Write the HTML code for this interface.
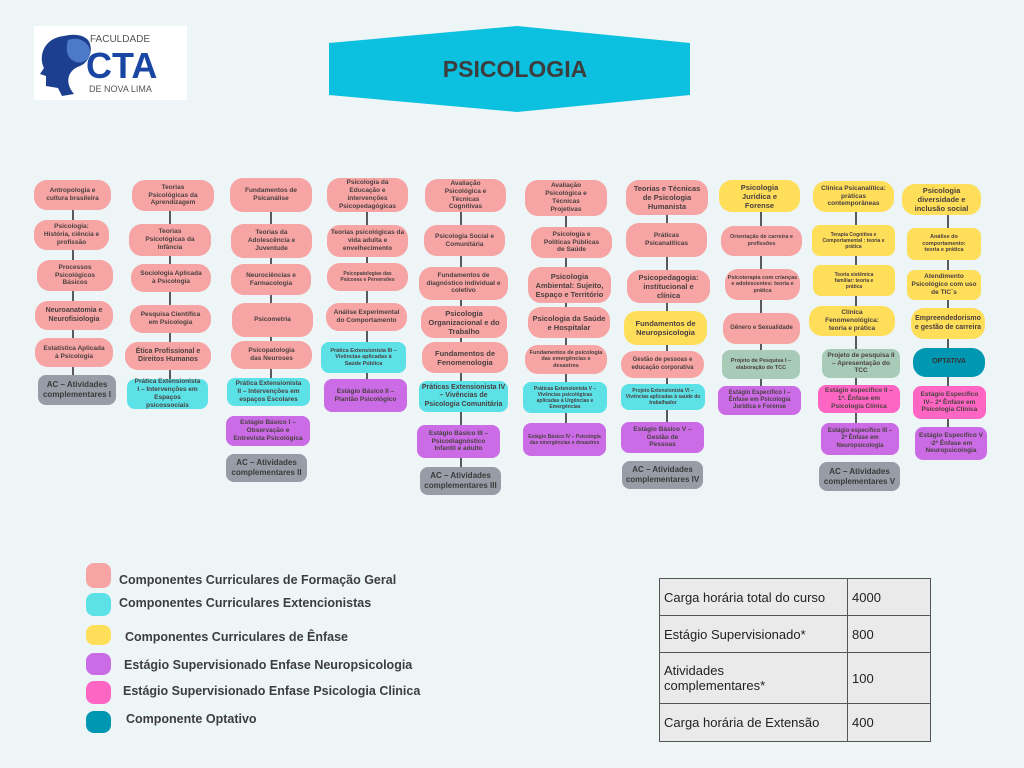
<!DOCTYPE html>
<html><head><meta charset="utf-8"><style>
*{margin:0;padding:0;box-sizing:border-box}
body{width:1024px;height:768px;background:#edf5f7;position:relative;overflow:hidden;font-family:"Liberation Sans",sans-serif;}
.b{position:absolute;display:flex;align-items:center;justify-content:center;text-align:center;font-weight:bold;color:#4a4040;border-radius:13px;font-size:6.5px;line-height:1.2;padding:0 7px;}
.p{background:#f7a4a4}.c{background:#5ce1e6}.y{background:#ffde59}.v{background:#cb6ce6}.h{background:#ff66c4}.t{background:#0097b2;color:#333}.g{background:#979ca6;color:#3a3a3a}.s{background:#a8cbb8}
.l{position:absolute;width:2px;background:#5a5a5a}
.lg{position:absolute;left:86px;width:25px;border-radius:8px}
.lt{position:absolute;left:119px;font-size:12.5px;font-weight:bold;color:#3d3d3d}
table{position:absolute;left:659px;top:578px;width:272px;border-collapse:collapse;font-size:13px;color:#222;table-layout:fixed}
td{border:1px solid #555;padding:0 4px;background:#eaeaea}
</style></head><body>
<div style="position:absolute;left:34px;top:26px;width:153px;height:74px;background:#fff"></div>
<svg style="position:absolute;left:34px;top:26px" width="153" height="74">
<path d="M30 10 C10 12 4 30 10 42 L6 48 L12 50 L12 60 L24 62 L28 70 L40 68 C30 56 34 44 46 40 C56 36 60 22 54 14 C48 8 38 8 30 10Z" fill="#1d3f8f"/>
<path d="M34 14 C44 10 56 16 56 26 C56 34 48 38 42 36 C36 34 30 28 34 14Z" fill="#4c7ac8"/>
<text x="56" y="16" font-size="10" fill="#555" font-family="Liberation Sans">FACULDADE</text>
<text x="52" y="52" font-size="36" font-weight="bold" fill="#1a46a3" font-family="Liberation Sans">CTA</text>
<text x="55" y="66" font-size="9" fill="#555" font-family="Liberation Sans">DE NOVA LIMA</text>
</svg>
<svg style="position:absolute;left:329px;top:26px" width="362" height="88"><polygon points="0,17 188,0 361,17 361,69 188,86 0,69" fill="#0cc0df"/>
<text x="186" y="51" text-anchor="middle" font-size="23" font-weight="bold" fill="#3d3d3d" font-family="Liberation Sans">PSICOLOGIA</text></svg>

<div class="l" style="left:72px;top:200px;height:180px"></div>
<div class="l" style="left:169px;top:200px;height:185px"></div>
<div class="l" style="left:270px;top:200px;height:190px"></div>
<div class="l" style="left:366px;top:200px;height:190px"></div>
<div class="l" style="left:460px;top:200px;height:275px"></div>
<div class="l" style="left:565px;top:200px;height:235px"></div>
<div class="l" style="left:666px;top:200px;height:240px"></div>
<div class="l" style="left:760px;top:200px;height:200px"></div>
<div class="l" style="left:855px;top:200px;height:250px"></div>
<div class="l" style="left:947px;top:200px;height:235px"></div>

<div class="b p" style="left:34px;top:180px;width:77px;height:30px">Antropologia e cultura brasileira</div>
<div class="b p" style="left:34px;top:220px;width:75px;height:30px">Psicologia: História, ciência e profissão</div>
<div class="b p" style="left:37px;top:260px;width:76px;height:31px">Processos Psicológicos Básicos</div>
<div class="b p" style="left:35px;top:301px;width:78px;height:29px;font-size:7px">Neuroanatomia e Neurofisiologia</div>
<div class="b p" style="left:35px;top:338px;width:78px;height:29px">Estatística Aplicada à Psicologia</div>
<div class="b g" style="left:38px;top:375px;width:78px;height:30px;font-size:8px;border-radius:8px;padding:0 4px">AC – Atividades complementares I</div>

<div class="b p" style="left:132px;top:180px;width:82px;height:31px;padding:0 14px">Teorias Psicológicas da Aprendizagem</div>
<div class="b p" style="left:129px;top:224px;width:82px;height:32px;padding:0 14px">Teorias Psicológicas da Infância</div>
<div class="b p" style="left:131px;top:264px;width:80px;height:28px">Sociologia Aplicada à Psicologia</div>
<div class="b p" style="left:130px;top:305px;width:81px;height:28px;padding:0 10px">Pesquisa Científica em Psicologia</div>
<div class="b p" style="left:125px;top:342px;width:86px;height:28px;font-size:7px">Ética Profissional e Direitos Humanos</div>
<div class="b c" style="left:127px;top:379px;width:81px;height:30px;border-radius:8px">Prática Extensionista I – Intervenções em Espaços psicossociais</div>

<div class="b p" style="left:230px;top:178px;width:82px;height:34px;padding:0 12px">Fundamentos de Psicanálise</div>
<div class="b p" style="left:231px;top:224px;width:81px;height:34px;padding:0 12px">Teorias da Adolescência e Juventude</div>
<div class="b p" style="left:231px;top:264px;width:80px;height:31px;padding:0 12px">Neurociências e Farmacologia</div>
<div class="b p" style="left:232px;top:303px;width:81px;height:34px">Psicometria</div>
<div class="b p" style="left:231px;top:341px;width:81px;height:28px;padding:0 14px">Psicopatologia das Neuroses</div>
<div class="b c" style="left:227px;top:378px;width:83px;height:28px;border-radius:8px">Prática Extensionista II – Intervenções em espaços Escolares</div>
<div class="b v" style="left:226px;top:416px;width:84px;height:30px;border-radius:8px">Estágio Básico I – Observação e Entrevista Psicológica</div>
<div class="b g" style="left:226px;top:454px;width:81px;height:28px;font-size:8px;border-radius:8px;padding:0 4px">AC – Atividades complementares II</div>

<div class="b p" style="left:327px;top:178px;width:81px;height:34px;padding:0 4px">Psicologia da Educação e intervenções Psicopedagógicas</div>
<div class="b p" style="left:327px;top:225px;width:81px;height:32px;padding:0 3px">Teorias psicológicas da vida adulta e envelhecimento</div>
<div class="b p" style="left:327px;top:263px;width:81px;height:28px;font-size:5px;padding:0 10px">Psicopatologias das Psicoses e Perversões</div>
<div class="b p" style="left:326px;top:303px;width:81px;height:28px;padding:0 4px">Análise Experimental do Comportamento</div>
<div class="b c" style="left:321px;top:342px;width:85px;height:31px;border-radius:8px;font-size:5.5px">Prática Extensionista III – Vivências aplicadas à Saúde Pública</div>
<div class="b v" style="left:324px;top:379px;width:83px;height:33px;border-radius:8px">Estágio Básico II – Plantão Psicológico</div>

<div class="b p" style="left:425px;top:179px;width:81px;height:33px;padding:0 12px">Avaliação Psicológica e Técnicas Cognitivas</div>
<div class="b p" style="left:424px;top:225px;width:81px;height:31px;padding:0 8px">Psicologia Social e Comunitária</div>
<div class="b p" style="left:419px;top:267px;width:89px;height:33px">Fundamentos de diagnóstico individual e coletivo</div>
<div class="b p" style="left:421px;top:306px;width:86px;height:32px;font-size:7.5px;padding:0 4px">Psicologia Organizacional e do Trabalho</div>
<div class="b p" style="left:422px;top:342px;width:86px;height:31px;font-size:7.5px;padding:0 10px">Fundamentos de Fenomenologia</div>
<div class="b c" style="left:419px;top:381px;width:89px;height:31px;border-radius:8px;font-size:7px;padding:0 2px">Práticas Extensionista IV – Vivências de Psicologia Comunitária</div>
<div class="b v" style="left:417px;top:425px;width:83px;height:33px;border-radius:8px;padding:0 10px">Estágio Básico III – Psicodiagnóstico Infantil e adulto</div>
<div class="b g" style="left:420px;top:467px;width:81px;height:28px;font-size:8px;border-radius:8px;padding:0 3px">AC – Atividades complementares III</div>

<div class="b p" style="left:525px;top:180px;width:82px;height:36px;padding:0 18px">Avaliação Psicológica e Técnicas Projetivas</div>
<div class="b p" style="left:531px;top:227px;width:81px;height:31px;padding:0 12px">Psicologia e Políticas Públicas de Saúde</div>
<div class="b p" style="left:528px;top:267px;width:83px;height:36px;font-size:7.5px;padding:0 3px">Psicologia Ambiental: Sujeito, Espaço e Território</div>
<div class="b p" style="left:528px;top:307px;width:82px;height:31px;font-size:7.5px;padding:0 4px">Psicologia da Saúde e Hospitalar</div>
<div class="b p" style="left:525px;top:345px;width:82px;height:29px;font-size:5.5px;padding:0 4px">Fundamentos de psicologia das emergências e desastres</div>
<div class="b c" style="left:523px;top:382px;width:84px;height:31px;border-radius:8px;font-size:5px;padding:0 4px">Práticas Extensionista V – Vivências psicológicas aplicadas à Urgências e Emergências</div>
<div class="b v" style="left:523px;top:423px;width:83px;height:33px;border-radius:8px;font-size:5px;padding:0 5px">Estágio Básico IV – Psicologia das emergências e desastres</div>

<div class="b p" style="left:626px;top:180px;width:82px;height:35px;font-size:7.5px;padding:0 4px">Teorias e Técnicas de Psicologia Humanista</div>
<div class="b p" style="left:626px;top:223px;width:81px;height:34px;padding:0 14px">Práticas Psicanalíticas</div>
<div class="b p" style="left:627px;top:270px;width:83px;height:33px;font-size:7.5px;padding:0 6px">Psicopedagogia: institucional e clínica</div>
<div class="b y" style="left:624px;top:311px;width:83px;height:34px;font-size:7.5px;padding:0 10px">Fundamentos de Neuropsicologia</div>
<div class="b p" style="left:621px;top:351px;width:83px;height:27px;font-size:6px;padding:0 5px">Gestão de pessoas e educação corporativa</div>
<div class="b c" style="left:621px;top:384px;width:84px;height:26px;border-radius:8px;font-size:5px;padding:0 3px">Projeto Extensionista VI – Vivências aplicadas à saúde do trabalhador</div>
<div class="b v" style="left:621px;top:422px;width:83px;height:31px;border-radius:8px;padding:0 12px">Estágio Básico V – Gestão de Pessoas</div>
<div class="b g" style="left:622px;top:461px;width:81px;height:28px;font-size:8px;border-radius:8px;padding:0 3px">AC – Atividades complementares IV</div>

<div class="b y" style="left:719px;top:180px;width:81px;height:32px;font-size:7.5px;padding:0 16px">Psicologia Jurídica e Forense</div>
<div class="b p" style="left:721px;top:226px;width:81px;height:30px;font-size:5.5px">Orientação de carreira e profissões</div>
<div class="b p" style="left:725px;top:269px;width:75px;height:31px;font-size:5.5px;padding:0 1px">Psicoterapia com crianças e adolescentes: teoria e prática</div>
<div class="b p" style="left:723px;top:313px;width:77px;height:31px;font-size:6px;padding:0 2px">Gênero e Sexualidade</div>
<div class="b s" style="left:722px;top:350px;width:78px;height:29px;border-radius:8px;font-size:5.5px">Projeto de Pesquisa I – elaboração do TCC</div>
<div class="b v" style="left:718px;top:386px;width:83px;height:29px;border-radius:8px;font-size:6px;padding:0 10px">Estágio Específico I – Ênfase em Psicologia Jurídica e Forense</div>

<div class="b y" style="left:813px;top:181px;width:81px;height:31px;padding:0 4px">Clínica Psicanalítica: práticas contemporâneas</div>
<div class="b y" style="left:812px;top:225px;width:83px;height:31px;border-radius:8px;font-size:5px;padding:0 3px">Terapia Cognitiva e Comportamental : teoria e prática</div>
<div class="b y" style="left:813px;top:265px;width:82px;height:31px;border-radius:8px;font-size:5px;padding:0 16px">Teoria sistêmica familiar: teoria e prática</div>
<div class="b y" style="left:809px;top:306px;width:86px;height:30px;padding:0 14px">Clínica Fenomenológica: teoria e prática</div>
<div class="b s" style="left:822px;top:349px;width:78px;height:29px;border-radius:8px;padding:0 4px">Projeto de pesquisa II – Apresentação do TCC</div>
<div class="b h" style="left:818px;top:385px;width:82px;height:28px;border-radius:8px;padding:0 4px">Estágio específico II – 1ª. Ênfase em Psicologia Clínica</div>
<div class="b v" style="left:821px;top:423px;width:78px;height:32px;border-radius:8px;font-size:6px;padding:0 5px">Estágio específico III – 2ª Ênfase em Neuropsicologia</div>
<div class="b g" style="left:819px;top:462px;width:81px;height:29px;font-size:8px;border-radius:8px;padding:0 3px">AC – Atividades complementares V</div>

<div class="b y" style="left:902px;top:184px;width:79px;height:31px;font-size:7.5px;padding:0 8px">Psicologia diversidade e inclusão social</div>
<div class="b y" style="left:907px;top:228px;width:74px;height:32px;border-radius:8px;font-size:5.5px;padding:0 10px">Análise do comportamento: teoria e prática</div>
<div class="b y" style="left:907px;top:270px;width:74px;height:30px;border-radius:8px;padding:0 3px">Atendimento Psicológico com uso de TIC´s</div>
<div class="b y" style="left:911px;top:308px;width:74px;height:31px;font-size:7px;padding:0 3px">Empreendedorismo e gestão de carreira</div>
<div class="b t" style="left:913px;top:348px;width:72px;height:29px;font-size:7px">OPTATIVA</div>
<div class="b h" style="left:913px;top:386px;width:73px;height:33px;border-radius:8px;padding:0 4px">Estágio Específico IV– 2ª Ênfase em Psicologia Clínica</div>
<div class="b v" style="left:915px;top:427px;width:72px;height:33px;border-radius:8px;padding:0 3px">Estágio Específico V -2ª Ênfase em Neuropsicologia</div>

<div class="lg p" style="top:563px;height:25px"></div><div class="lt" style="top:573px">Componentes Curriculares de Formação Geral</div>
<div class="lg c" style="top:593px;height:23px"></div><div class="lt" style="top:596px">Componentes Curriculares Extencionistas</div>
<div class="lg y" style="top:625px;height:20px"></div><div class="lt" style="top:630px;left:125px">Componentes Curriculares de Ênfase</div>
<div class="lg v" style="top:653px;height:22px"></div><div class="lt" style="top:658px;left:124px">Estágio Supervisionado Enfase Neuropsicologia</div>
<div class="lg h" style="top:681px;height:23px"></div><div class="lt" style="top:684px;left:123px">Estágio Supervisionado Enfase Psicologia Clinica</div>
<div class="lg t" style="top:711px;height:22px"></div><div class="lt" style="top:712px;left:126px">Componente Optativo</div>

<table>
<tr style="height:37px"><td style="width:188px">Carga horária total do curso</td><td>4000</td></tr>
<tr style="height:37px"><td>Estágio Supervisionado*</td><td>800</td></tr>
<tr style="height:51px"><td>Atividades<br>complementares*</td><td>100</td></tr>
<tr style="height:38px"><td>Carga horária de Extensão</td><td>400</td></tr>
</table>
</body></html>
